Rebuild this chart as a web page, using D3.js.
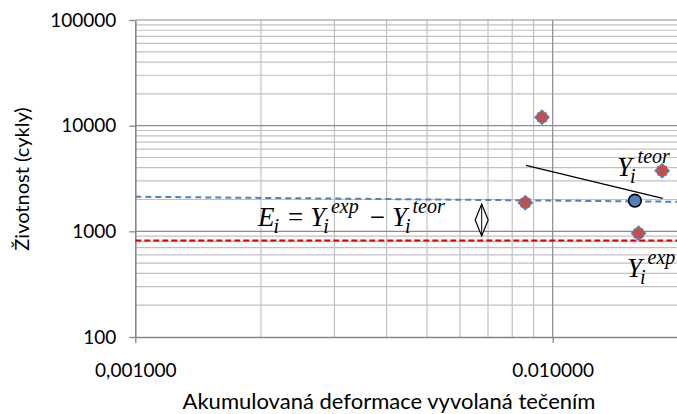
<!DOCTYPE html>
<html>
<head>
<meta charset="utf-8">
<script src="https://cdn.jsdelivr.net/npm/d3@7"></script>
<style>
  body { margin: 0; background: #fff; }
  .tick text { font-family: Lato, "Open Sans", sans-serif; font-size: 19px; fill: #000; }
</style>
</head>
<body>
<script>
// data
var xTickValues = [0.001, 0.01]
var xTickLabels = ["0,001000", "0.010000"]
var yTickValues = [100, 1000, 10000, 100000]

// experimental points (diamond + square series)
var expX = [0.00943, 0.00860, 0.01606, 0.01830]
var expY = [12000, 1865, 957, 3740]

// theoretical point (circle)
var teorX = [0.01574]
var teorY = [1950]

// blue dashed fit line
var fitX = [0.001, 0.02]
var fitY = [2125, 1905]

// red dashed limit line
var limitX = [0.001, 0.02]
var limitY = [818, 818]

// black helper line
var trendX = [0.00863, 0.01836]
var trendY = [4211, 2052]

// double arrow (E_i)
var arrowX = 0.00676
var arrowY = [1810, 905]

var width = 677, height = 414
var margin = {top: 20, right: -1.3, bottom: 77, left: 135.3}

var x = d3.scaleLog().domain([0.001, 0.02]).range([margin.left, width - margin.right])
var y = d3.scaleLog().domain([100, 100000]).range([height - margin.bottom, margin.top])

var svg = d3.select("body").append("svg")
    .attr("width", width)
    .attr("height", height)

svg.append("defs").append("clipPath").attr("id", "plot")
    .append("rect")
    .attr("x", margin.left).attr("y", margin.top - 2)
    .attr("width", width - margin.left).attr("height", height - margin.bottom - margin.top + 4)

// gridlines
var yMinor = [], xMinor = []
;[100, 1000, 10000].forEach(function (d) {
    for (var k = 2; k <= 9; k++) yMinor.push(d * k)
})
for (var k = 2; k <= 9; k++) xMinor.push(0.001 * k)

var grid = svg.append("g").attr("clip-path", "url(#plot)")
grid.selectAll(".hminor").data(yMinor).enter().append("line")
    .attr("x1", margin.left).attr("x2", width)
    .attr("y1", function (d) { return y(d) }).attr("y2", function (d) { return y(d) })
    .attr("stroke", "#c0c0c0").attr("stroke-width", 1.2)
grid.selectAll(".vminor").data(xMinor).enter().append("line")
    .attr("x1", function (d) { return x(d) }).attr("x2", function (d) { return x(d) })
    .attr("y1", y(100)).attr("y2", y(100000))
    .attr("stroke", "#c0c0c0").attr("stroke-width", 1.2)
grid.selectAll(".hmajor").data([1000, 10000, 100000]).enter().append("line")
    .attr("x1", margin.left).attr("x2", width)
    .attr("y1", function (d) { return y(d) }).attr("y2", function (d) { return y(d) })
    .attr("stroke", "#8c8c8c").attr("stroke-width", 1.2)
grid.selectAll(".vmajor").data([0.01]).enter().append("line")
    .attr("x1", function (d) { return x(d) }).attr("x2", function (d) { return x(d) })
    .attr("y1", y(100)).attr("y2", y(100000))
    .attr("stroke", "#8c8c8c").attr("stroke-width", 1.2)

// axes
var yAxis = d3.axisLeft(y).tickValues(yTickValues).tickFormat(d3.format("d"))
    .tickSize(6).tickSizeOuter(0).tickPadding(13)
var xAxis = d3.axisBottom(x).tickValues(xTickValues)
    .tickFormat(function (d, i) { return xTickLabels[i] })
    .tickSize(6).tickSizeOuter(0).tickPadding(21)

var gy = svg.append("g").attr("transform", "translate(" + margin.left + ",0)").call(yAxis)
var gx = svg.append("g").attr("transform", "translate(0," + y(100) + ")").call(xAxis)
;[gx, gy].forEach(function (g) {
    g.select(".domain").attr("stroke", "#868686").attr("stroke-width", 1.6)
    g.selectAll(".tick line").attr("stroke", "#868686").attr("stroke-width", 1.3)
})

// lines
var line = d3.line()
    .x(function (d) { return x(d[0]) })
    .y(function (d) { return y(d[1]) })

var plot = svg.append("g").attr("clip-path", "url(#plot)")
plot.append("path")
    .attr("d", line(d3.zip(fitX, fitY)))
    .attr("fill", "none").attr("stroke", "#4f81bd").attr("stroke-width", 2)
    .attr("stroke-dasharray", "6,4")
plot.append("path")
    .attr("d", line(d3.zip(limitX, limitY)))
    .attr("fill", "none").attr("stroke", "#d00000").attr("stroke-width", 2)
    .attr("stroke-dasharray", "6,3")
plot.append("path")
    .attr("d", line(d3.zip(trendX, trendY)))
    .attr("fill", "none").attr("stroke", "#000").attr("stroke-width", 1.3)

// markers
var pts = d3.zip(expX, expY)
plot.selectAll(".diamond").data(pts).enter().append("path")
    .attr("transform", function (d) { return "translate(" + x(d[0]) + "," + y(d[1]) + ")" })
    .attr("d", "M0,-8L8,0L0,8L-8,0Z")
    .attr("fill", "#4f81bd")
plot.selectAll(".square").data(pts).enter().append("rect")
    .attr("x", function (d) { return x(d[0]) - 4.8 })
    .attr("y", function (d) { return y(d[1]) - 4.8 })
    .attr("width", 9.6).attr("height", 9.6)
    .attr("fill", "#c0504d")

plot.selectAll(".teor").data(d3.zip(teorX, teorY)).enter().append("circle")
    .attr("cx", function (d) { return x(d[0]) })
    .attr("cy", function (d) { return y(d[1]) })
    .attr("r", 6.3)
    .attr("fill", "#4f81bd").attr("stroke", "#000").attr("stroke-width", 1.6)

// double arrow
var ax = x(arrowX), aTop = y(arrowY[0]), aBot = y(arrowY[1]), aMid = (aTop + aBot) / 2
svg.append("path")
    .attr("d", "M" + ax + "," + aTop + "L" + (ax + 6.5) + "," + aMid + "L" + ax + "," + aBot +
        "L" + (ax - 6.5) + "," + aMid + "Z")
    .attr("fill", "#fff").attr("stroke", "#000").attr("stroke-width", 1.2)
svg.append("line")
    .attr("x1", ax).attr("x2", ax).attr("y1", aTop).attr("y2", aBot)
    .attr("stroke", "#000").attr("stroke-width", 1)

// math labels
var mathFont = "'Liberation Serif', serif"
var big = 27, small = 20

var f = svg.append("text").attr("x", 258).attr("y", 226)
    .attr("font-family", mathFont).attr("font-style", "italic")
f.append("tspan").attr("font-size", big).text("E")
f.append("tspan").attr("font-size", small).attr("dx", -1).attr("dy", 7).text("i")
f.append("tspan").attr("font-size", big).attr("font-style", "normal").attr("dx", 9).attr("dy", -7).text("=")
f.append("tspan").attr("font-size", big).attr("dx", 7).text("Y")
f.append("tspan").attr("font-size", small).attr("dx", -2).attr("dy", 7).text("i")
f.append("tspan").attr("font-size", small).attr("dx", 2).attr("dy", -20).text("exp")
f.append("tspan").attr("font-size", big).attr("font-style", "normal").attr("dx", 11).attr("dy", 13).text("\u2212")
f.append("tspan").attr("font-size", big).attr("dx", 7).text("Y")
f.append("tspan").attr("font-size", small).attr("dx", -2).attr("dy", 7).text("i")
f.append("tspan").attr("font-size", small).attr("dx", 2).attr("dy", -20).text("teor")

function yLabel(px, py, sup) {
    var t = svg.append("text").attr("x", px).attr("y", py)
        .attr("font-family", mathFont).attr("font-style", "italic")
    t.append("tspan").attr("font-size", big).text("Y")
    t.append("tspan").attr("font-size", small).attr("dx", -2).attr("dy", 7).text("i")
    t.append("tspan").attr("font-size", small).attr("dx", 2).attr("dy", -20).text(sup)
    return t
}
yLabel(617, 176, "teor")
yLabel(627, 277, "exp")

// axis titles
svg.append("text")
    .attr("x", 389).attr("y", 409)
    .attr("text-anchor", "middle")
    .attr("font-family", "Lato, 'Open Sans', sans-serif").attr("font-size", 22)
    .text("Akumulovaná deformace vyvolaná tečením")
svg.append("text")
    .attr("transform", "translate(29,179) rotate(-90)")
    .attr("text-anchor", "middle")
    .attr("font-family", "Lato, 'Open Sans', sans-serif").attr("font-size", 20)
    .text("Životnost (cykly)")
</script>
</body>
</html>
